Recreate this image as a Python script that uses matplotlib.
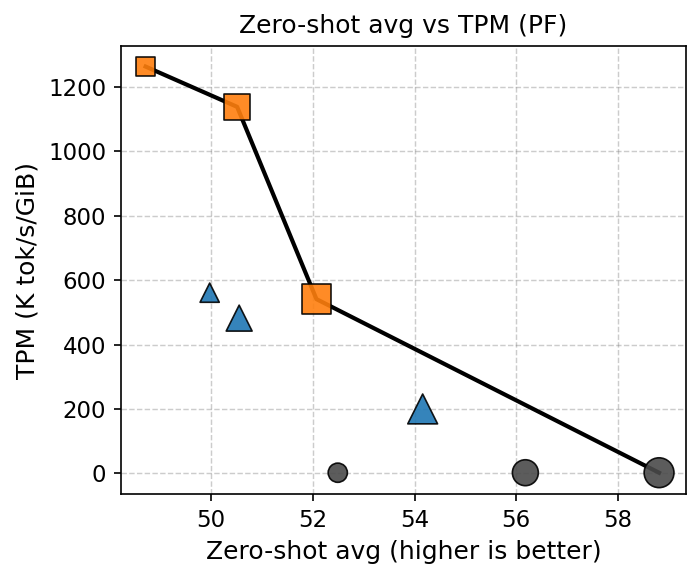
import matplotlib.pyplot as plt

# PF points: square / triangle / circle groups, three sizes each
sq_x = [48.71, 50.51, 52.07]
sq_y = [1263, 1138, 541]
sq_s = [85, 155, 205]

tri_x = [49.97, 50.55, 54.16]
tri_y = [561, 482, 200]
tri_s = [85, 155, 205]

circ_x = [52.49, 56.18, 58.81]
circ_y = [2, 2, 2]
circ_s = [85, 155, 205]

# pareto front
front_x = [48.71, 50.51, 52.07, 58.81]
front_y = [1263, 1138, 541, 2]

fig = plt.figure(figsize=(701 / 150, 579 / 150), dpi=150)
ax = fig.add_axes([0.1722, 0.1463, 0.8064, 0.7743])

ax.plot(front_x, front_y, color='black', lw=2, zorder=2)
ax.scatter(sq_x, sq_y, s=sq_s, marker='s', color='#ff7f0e', edgecolor='black',
           linewidth=0.8, alpha=0.9, zorder=3)
ax.scatter(tri_x, tri_y, s=tri_s, marker='^', color='#1f77b4', edgecolor='black',
           linewidth=0.8, alpha=0.9, zorder=3)
ax.scatter(circ_x, circ_y, s=circ_s, marker='o', color='#4a4a4a', edgecolor='black',
           linewidth=0.8, alpha=0.9, zorder=3)

ax.set_xlim(48.22, 59.34)
ax.set_ylim(-65, 1327)
ax.set_xticks([50, 52, 54, 56, 58])
ax.set_yticks([0, 200, 400, 600, 800, 1000, 1200])
ax.tick_params(labelsize=11)
ax.grid(True, linestyle='--', color='gray', alpha=0.4, lw=0.7)
ax.set_axisbelow(True)

ax.set_title('Zero-shot avg vs TPM (PF)', fontsize=12)
ax.set_xlabel('Zero-shot avg (higher is better)', fontsize=12)
ax.set_ylabel('TPM (K tok/s/GiB)', fontsize=12)

fig.savefig('out.png', dpi=150)
